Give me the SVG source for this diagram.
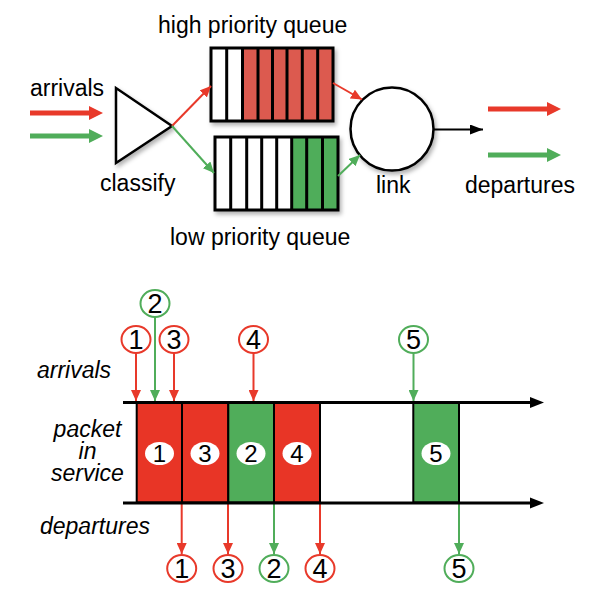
<svg xmlns="http://www.w3.org/2000/svg" width="590" height="606" viewBox="0 0 590 606">
<defs>
<style>
.t{font-family:"Liberation Sans",Arial,sans-serif;font-size:23px;fill:#000}
.i{font-style:italic}
.n{font-family:"Liberation Sans",Arial,sans-serif;font-size:27px;fill:#000;text-anchor:middle}
.m{font-family:"Liberation Sans",Arial,sans-serif;font-size:24px;fill:#000;text-anchor:middle}
.slot{stroke:#000;stroke-width:3}
.qo{fill:none;stroke:#000;stroke-width:3}
.rc{fill:#fff;stroke:#e8392a;stroke-width:2}
.gc{fill:#fff;stroke:#50ad5a;stroke-width:2}
.ra{stroke:#e8392a;stroke-width:2;fill:none}
.ga{stroke:#50ad5a;stroke-width:2;fill:none}
.ka{stroke:#000;stroke-width:2;fill:none}
.box{stroke:#000;stroke-width:2}
</style>
<filter id="sh" x="-20%" y="-20%" width="140%" height="140%">
<feDropShadow dx="2" dy="3" stdDeviation="2" flood-color="#000" flood-opacity="0.3"/>
</filter>
<marker id="mr" markerUnits="userSpaceOnUse" markerWidth="12" markerHeight="10" refX="11" refY="5" orient="auto"><path d="M0,0 L11,5 L0,10 Z" fill="#e8392a"/></marker>
<marker id="mg" markerUnits="userSpaceOnUse" markerWidth="12" markerHeight="10" refX="11" refY="5" orient="auto"><path d="M0,0 L11,5 L0,10 Z" fill="#50ad5a"/></marker>
<marker id="mk" markerUnits="userSpaceOnUse" markerWidth="14" markerHeight="10" refX="13" refY="5" orient="auto"><path d="M0,0 L13,5 L0,10 Z" fill="#000"/></marker>
</defs>
<rect width="590" height="606" fill="#fff"/>

<!-- top labels -->
<text class="t" x="30" y="96">arrivals</text>
<text class="t" x="100" y="191">classify</text>
<text class="t" x="158" y="33">high priority queue</text>
<text class="t" x="170" y="245">low priority queue</text>
<text class="t" x="376" y="193">link</text>
<text class="t" x="465" y="193">departures</text>

<g id="big-arrows">
<path d="M30,113 H90" stroke="#e8392a" stroke-width="5"/>
<path d="M89,106 L103,113 L89,120 Z" fill="#e8392a"/>
<path d="M30,136 H90" stroke="#50ad5a" stroke-width="5"/>
<path d="M89,129 L103,136 L89,143 Z" fill="#50ad5a"/>
<path d="M488,109 H548" stroke="#e8392a" stroke-width="5"/>
<path d="M547,102 L561,109 L547,116 Z" fill="#e8392a"/>
<path d="M488,155 H548" stroke="#50ad5a" stroke-width="5"/>
<path d="M547,148 L561,155 L547,162 Z" fill="#50ad5a"/>
</g>

<g id="classify">
<path d="M116,88 L116,163 L172,126 Z" fill="#fff" stroke="#000" stroke-width="2.5" filter="url(#sh)"/>
</g>

<g id="high-queue" filter="url(#sh)">
<rect x="211" y="48" width="122" height="73" fill="#fff"/>
<rect x="242.5" y="48" width="90.5" height="73" fill="#dc5a4f"/>
<path class="slot" d="M226.7,48 V121 M242.5,48 V121 M258,48 V121 M272.5,48 V121 M287,48 V121 M302.3,48 V121 M317.7,48 V121"/>
<rect class="qo" x="211" y="48" width="122" height="73"/>
</g>

<g id="low-queue" filter="url(#sh)">
<rect x="215" y="137" width="123" height="73" fill="#fff"/>
<rect x="291.7" y="137" width="46.3" height="73" fill="#50ad5a"/>
<path class="slot" d="M230.7,137 V210 M246.7,137 V210 M261.7,137 V210 M276.7,137 V210 M291.7,137 V210 M306.7,137 V210 M322.5,137 V210"/>
<rect class="qo" x="215" y="137" width="123" height="73"/>
</g>

<g id="link">
<circle cx="392" cy="129" r="41.5" fill="#fff" stroke="#000" stroke-width="2.5" filter="url(#sh)"/>
</g>

<g id="connectors">
<path class="ra" d="M172,126 L211,86" marker-end="url(#mr)"/>
<path class="ga" d="M172,126 L214,173" marker-end="url(#mg)"/>
<path class="ra" d="M333,83 L362,99.5" marker-end="url(#mr)"/>
<path class="ga" d="M338,176 L360,155" marker-end="url(#mg)"/>
<path class="ka" d="M433,129.5 L483,129.5" marker-end="url(#mk)"/>

<!-- timeline arrivals -->
<path class="ra" d="M136,353 V401" marker-end="url(#mr)"/>
<path class="ga" d="M155,317 V401" marker-end="url(#mg)"/>
<path class="ra" d="M174,353 V401" marker-end="url(#mr)"/>
<path class="ra" d="M253.5,353 V401" marker-end="url(#mr)"/>
<path class="ga" d="M413.5,353 V401" marker-end="url(#mg)"/>
<!-- timeline departures -->
<path class="ra" d="M181.7,504 V554" marker-end="url(#mr)"/>
<path class="ra" d="M228,504 V554" marker-end="url(#mr)"/>
<path class="ga" d="M274,504 V554" marker-end="url(#mg)"/>
<path class="ra" d="M320,504 V554" marker-end="url(#mr)"/>
<path class="ga" d="M459,504 V554" marker-end="url(#mg)"/>
</g>

<!-- bottom labels -->
<text class="t i" x="37" y="378">arrivals</text>
<text class="t i" text-anchor="middle"><tspan x="87.5" y="437">packet</tspan><tspan x="87.5" y="459">in</tspan><tspan x="87.5" y="481">service</tspan></text>
<text class="t i" x="40" y="534">departures</text>

<g id="service">
<rect class="box" x="136.7" y="403" width="45.3" height="99.5" fill="#e83526"/>
<rect class="box" x="182" y="403" width="46.3" height="99.5" fill="#e83526"/>
<rect class="box" x="228.3" y="403" width="45.7" height="99.5" fill="#50ad5a"/>
<rect class="box" x="274" y="403" width="46" height="99.5" fill="#e83526"/>
<rect class="box" x="413.3" y="403" width="45.7" height="99.5" fill="#50ad5a"/>
<ellipse cx="159.5" cy="453.5" rx="14.5" ry="11.5" fill="#fff"/>
<text class="m" x="159.5" y="462">1</text>
<ellipse cx="205" cy="453.5" rx="14.5" ry="11.5" fill="#fff"/>
<text class="m" x="205" y="462">3</text>
<ellipse cx="251" cy="453.5" rx="14.5" ry="11.5" fill="#fff"/>
<text class="m" x="251" y="462">2</text>
<ellipse cx="297" cy="453.5" rx="14.5" ry="11.5" fill="#fff"/>
<text class="m" x="297" y="462">4</text>
<ellipse cx="436" cy="453.5" rx="14.5" ry="11.5" fill="#fff"/>
<text class="m" x="436" y="462">5</text>
</g>

<g id="axes">
<path d="M123,402.5 H532" stroke="#000" stroke-width="3"/>
<path d="M530,397 L544,402.5 L530,408 Z" fill="#000"/>
<path d="M123,503 H532" stroke="#000" stroke-width="3"/>
<path d="M530,497.5 L544,503 L530,508.5 Z" fill="#000"/>
</g>

<g id="arr-1"><ellipse class="rc" cx="136" cy="339.5" rx="14.5" ry="13.5"/><text class="n" x="136" y="349">1</text></g>
<g id="arr-2"><ellipse class="gc" cx="155" cy="303.5" rx="14.5" ry="13.5"/><text class="n" x="155" y="313">2</text></g>
<g id="arr-3"><ellipse class="rc" cx="174" cy="339.5" rx="14.5" ry="13.5"/><text class="n" x="174" y="349">3</text></g>
<g id="arr-4"><ellipse class="rc" cx="253.5" cy="339.5" rx="14.5" ry="13.5"/><text class="n" x="253.5" y="349">4</text></g>
<g id="arr-5"><ellipse class="gc" cx="413.5" cy="339.5" rx="14.5" ry="13.5"/><text class="n" x="413.5" y="349">5</text></g>

<g id="dep-1"><ellipse class="rc" cx="181.7" cy="568.5" rx="14.5" ry="13.5"/><text class="n" x="181.7" y="578">1</text></g>
<g id="dep-3"><ellipse class="rc" cx="228" cy="568.5" rx="14.5" ry="13.5"/><text class="n" x="228" y="578">3</text></g>
<g id="dep-2"><ellipse class="gc" cx="274" cy="568.5" rx="14.5" ry="13.5"/><text class="n" x="274" y="578">2</text></g>
<g id="dep-4"><ellipse class="rc" cx="320" cy="568.5" rx="14.5" ry="13.5"/><text class="n" x="320" y="578">4</text></g>
<g id="dep-5"><ellipse class="gc" cx="459" cy="568.5" rx="14.5" ry="13.5"/><text class="n" x="459" y="578">5</text></g>
</svg>
